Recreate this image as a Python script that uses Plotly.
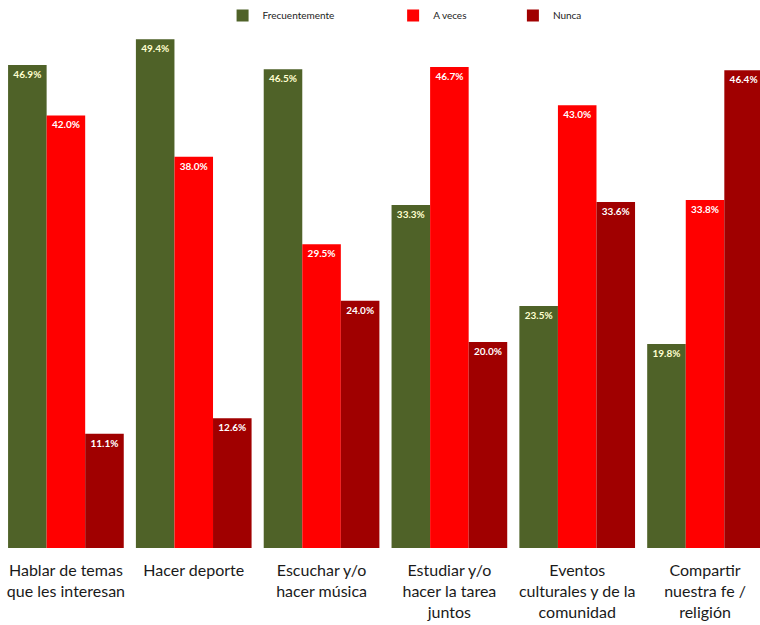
import plotly.graph_objects as go

categories = [
    "Hablar de temas<br>que les interesan",
    "Hacer deporte",
    "Escuchar y/o<br>hacer música",
    "Estudiar y/o<br>hacer la tarea<br>juntos",
    "Eventos<br>culturales y de la<br>comunidad",
    "Compartir<br>nuestra fe /<br>religión",
]
frecuentemente = [46.9, 49.4, 46.5, 33.3, 23.5, 19.8]
a_veces = [42.0, 38.0, 29.5, 46.7, 43.0, 33.8]
nunca = [11.1, 12.6, 24.0, 20.0, 33.6, 46.4]

series = [
    ("Frecuentemente", frecuentemente, "#4F6228", "#FFFFD0", "legend", 0.291),
    ("A veces", a_veces, "#FF0000", "#FFFFFF", "legend2", 0.516),
    ("Nunca", nunca, "#A00000", "#FFFFFF", "legend3", 0.674),
]

x_idx = list(range(len(categories)))

fig = go.Figure()
for name, vals, color, tcolor, leg, _ in series:
    fig.add_trace(go.Bar(
        name=name,
        x=x_idx,
        y=vals,
        legend=leg,
        showlegend=True,
        marker=dict(color=color, line=dict(width=0)),
        text=[f"{v:.1f}%" for v in vals],
        textposition="inside",
        insidetextanchor="end",
        textangle=0,
        textfont=dict(family="Lato, Arial", size=10, color=tcolor, weight="bold"),
    ))

legend_common = dict(
    orientation="h",
    y=1.0, yanchor="bottom",
    xanchor="left",
    font=dict(size=10, color="#222222"),
    itemwidth=30,
    bgcolor="rgba(0,0,0,0)",
    visible=True,
)

layout_legends = {}
for name, vals, color, tcolor, leg, lx in series:
    layout_legends[leg] = dict(legend_common, x=lx)

fig.update_layout(
    width=760,
    height=625,
    showlegend=True,
    barmode="group",
    bargap=0.095,
    bargroupgap=0,
    plot_bgcolor="white",
    paper_bgcolor="white",
    margin=dict(l=2, r=0, t=30, b=77, autoexpand=False),
    font=dict(family="Lato, Arial", color="#1a1a1a"),
    uniformtext=dict(minsize=9, mode="show"),
    xaxis=dict(
        tickmode="array",
        tickvals=x_idx,
        ticktext=categories,
        range=[-0.5, 5.43],
        showgrid=False,
        showline=False,
        zeroline=False,
        ticks="",
        automargin=False,
        ticklabelstandoff=11,
        tickfont=dict(size=16, color="#1a1a1a"),
    ),
    yaxis=dict(
        range=[0, 50.3],
        visible=False,
        showgrid=False,
        zeroline=False,
    ),
    **layout_legends,
)

fig.write_html(
    "out.html",
    config={"displayModeBar": False},
    post_script="document.body.style.margin='0';document.body.style.padding='0';",
)
